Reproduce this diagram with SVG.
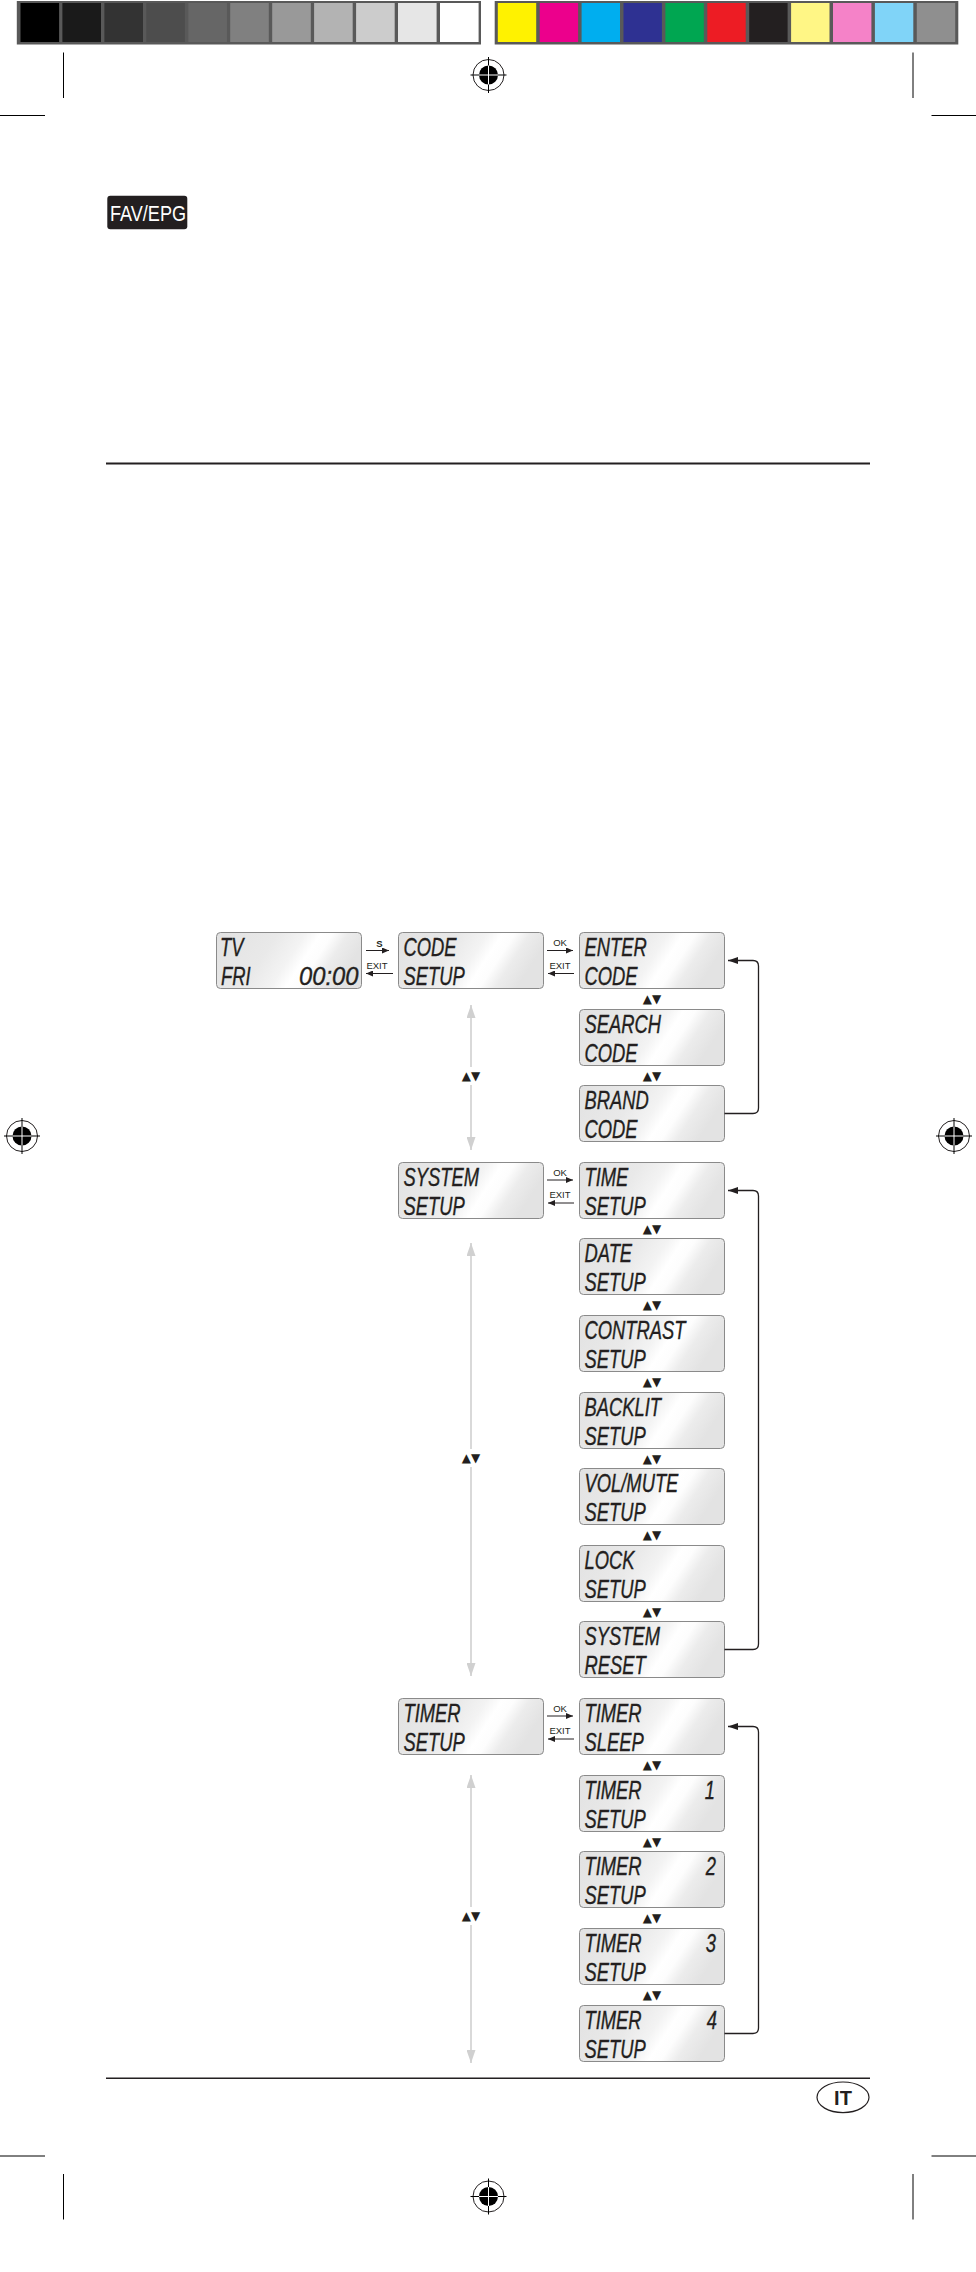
<svg xmlns="http://www.w3.org/2000/svg" width="976" height="2272" viewBox="0 0 976 2272">
<defs>
  <linearGradient id="lcd" x1="0" y1="0" x2="1" y2="0.25">
    <stop offset="0" stop-color="#e2e2e2"/>
    <stop offset="0.4" stop-color="#e9e9e9"/>
    <stop offset="0.58" stop-color="#f3f3f3"/>
    <stop offset="0.68" stop-color="#ffffff"/>
    <stop offset="0.76" stop-color="#fdfdfd"/>
    <stop offset="0.86" stop-color="#ececec"/>
    <stop offset="1" stop-color="#e3e3e3"/>
  </linearGradient>
  <marker id="ah" markerUnits="userSpaceOnUse" markerWidth="7" markerHeight="6" refX="7" refY="3" orient="auto">
    <path d="M0,0 L7,3 L0,6 z" fill="#231f20"/>
  </marker>
  <marker id="bh" markerUnits="userSpaceOnUse" markerWidth="10" markerHeight="7" refX="10" refY="3.5" orient="auto">
    <path d="M0,0 L10,3.5 L0,7 z" fill="#231f20"/>
  </marker>
  <marker id="gh" markerUnits="userSpaceOnUse" markerWidth="13" markerHeight="9" refX="13" refY="4.5" orient="auto">
    <path d="M0,0 L13,4.5 L0,9 z" fill="#d0d0d0"/>
  </marker>
  <g id="reg">
    <circle cx="0" cy="0" r="15.5" fill="none" stroke="#231f20" stroke-width="1"/>
    <circle cx="0" cy="0" r="9.5" fill="#000"/>
    <line x1="-18" y1="0" x2="18" y2="0" stroke="#000" stroke-width="1"/>
    <line x1="0" y1="-18" x2="0" y2="18" stroke="#000" stroke-width="1"/>
    <line x1="-9.5" y1="0" x2="9.5" y2="0" stroke="#fff" stroke-width="1"/>
    <line x1="0" y1="-9.5" x2="0" y2="9.5" stroke="#fff" stroke-width="1"/>
  </g>
</defs>
<style>
  .lcd rect { fill: url(#lcd); stroke: #8a8a8a; stroke-width: 1; }
  .t { font-family: "Liberation Sans", Arial, sans-serif; font-style: italic; font-size: 25px; fill: #231f20; stroke: #231f20; stroke-width: 0.35; }
  .k { font-family: "Liberation Sans", Arial, sans-serif; font-size: 9.5px; fill: #231f20; text-anchor: middle; }
  .tri { font-family: "DejaVu Sans", sans-serif; font-size: 12px; fill: #231f20; text-anchor: middle; }
  .ln { stroke: #231f20; stroke-width: 1; fill: none; }
  .br { stroke: #231f20; stroke-width: 1.3; fill: none; }
  .gl { stroke: #d0d0d0; stroke-width: 1.6; fill: none; }
  .crop { stroke: #000; stroke-width: 1; }
</style>
<rect x="0" y="0" width="976" height="2272" fill="#fff"/>

<g id="colorbars">
  <rect x="16.8" y="1" width="464.2" height="43.5" fill="#595959"/>
  <rect x="20.5" y="3" width="38.6" height="39" fill="#000000"/>
  <rect x="62.4" y="3" width="38.6" height="39" fill="#1a1a1a"/>
  <rect x="104.4" y="3" width="38.6" height="39" fill="#333333"/>
  <rect x="146.3" y="3" width="38.6" height="39" fill="#4d4d4d"/>
  <rect x="188.3" y="3" width="38.6" height="39" fill="#666666"/>
  <rect x="230.2" y="3" width="38.6" height="39" fill="#808080"/>
  <rect x="272.2" y="3" width="38.6" height="39" fill="#999999"/>
  <rect x="314.1" y="3" width="38.6" height="39" fill="#b3b3b3"/>
  <rect x="356.1" y="3" width="38.6" height="39" fill="#cccccc"/>
  <rect x="398.0" y="3" width="38.6" height="39" fill="#e6e6e6"/>
  <rect x="440.0" y="3" width="38.6" height="39" fill="#ffffff"/>
  <rect x="494.7" y="1" width="463.6" height="43.5" fill="#595959"/>
  <rect x="497.8" y="3" width="38.4" height="39" fill="#fff200"/>
  <rect x="539.7" y="3" width="38.4" height="39" fill="#ec008c"/>
  <rect x="581.6" y="3" width="38.4" height="39" fill="#00aeef"/>
  <rect x="623.5" y="3" width="38.4" height="39" fill="#2e3192"/>
  <rect x="665.4" y="3" width="38.4" height="39" fill="#00a651"/>
  <rect x="707.3" y="3" width="38.4" height="39" fill="#ed1c24"/>
  <rect x="749.2" y="3" width="38.4" height="39" fill="#231f20"/>
  <rect x="791.1" y="3" width="38.4" height="39" fill="#fff685"/>
  <rect x="833.0" y="3" width="38.4" height="39" fill="#f582c8"/>
  <rect x="874.9" y="3" width="38.4" height="39" fill="#80d4f8"/>
  <rect x="916.8" y="3" width="38.4" height="39" fill="#8f8f8f"/>
</g>

<g id="printmarks">
  <line class="crop" x1="63.5" y1="52.5" x2="63.5" y2="98"/>
  <line class="crop" x1="913" y1="52.5" x2="913" y2="98"/>
  <line class="crop" x1="0" y1="115.5" x2="45" y2="115.5"/>
  <line class="crop" x1="931.5" y1="115.5" x2="976" y2="115.5"/>
  <line class="crop" x1="0" y1="2156" x2="45" y2="2156"/>
  <line class="crop" x1="931.5" y1="2156" x2="976" y2="2156"/>
  <line class="crop" x1="63.5" y1="2174" x2="63.5" y2="2219.5"/>
  <line class="crop" x1="913" y1="2174" x2="913" y2="2219.5"/>
  <use href="#reg" x="488.5" y="75"/>
  <use href="#reg" x="22" y="1136"/>
  <use href="#reg" x="954" y="1136"/>
  <use href="#reg" x="488.5" y="2196.5"/>
</g>

<g id="fav-epg">
  <rect x="107.3" y="195.7" width="80" height="33.6" rx="3" fill="#231f20"/>
  <text x="110" y="220.7" font-family="'Liberation Sans', Arial, sans-serif" font-size="22" fill="#fff" textLength="76" lengthAdjust="spacingAndGlyphs">FAV/EPG</text>
</g>

<g id="rules">
  <line x1="106" y1="463.5" x2="870" y2="463.5" stroke="#231f20" stroke-width="2"/>
  <line x1="106" y1="2078.3" x2="870" y2="2078.3" stroke="#231f20" stroke-width="1.6"/>
</g>

<g id="lang-it">
  <ellipse cx="843" cy="2097.3" rx="26" ry="15.3" fill="none" stroke="#231f20" stroke-width="1.2"/>
  <text x="843" y="2104.5" font-family="'Liberation Sans', Arial, sans-serif" font-weight="bold" font-size="20" fill="#231f20" text-anchor="middle">IT</text>
</g>

<!-- nodes -->
<g id="node-tv" class="lcd">
  <rect x="216.5" y="932.5" width="145" height="56" rx="4"/>
  <text class="t" transform="translate(220,955.5) scale(0.735,1)">TV</text>
  <text class="t" transform="translate(221,984.5) scale(0.735,1)">FRI</text>
  <text class="t" transform="translate(299,984.5) scale(0.735,1)" textLength="81" lengthAdjust="spacingAndGlyphs">00:00</text>
</g>
<g id="node-code-setup" class="lcd">
  <rect x="398.5" y="932.5" width="145" height="56" rx="4"/>
  <text class="t" transform="translate(403.5,955.5) scale(0.735,1)">CODE</text>
  <text class="t" transform="translate(403.5,984.5) scale(0.735,1)">SETUP</text>
</g>
<g id="node-system-setup" class="lcd">
  <rect x="398.5" y="1162.5" width="145" height="56" rx="4"/>
  <text class="t" transform="translate(403.5,1185.5) scale(0.735,1)">SYSTEM</text>
  <text class="t" transform="translate(403.5,1214.5) scale(0.735,1)">SETUP</text>
</g>
<g id="node-timer-setup" class="lcd">
  <rect x="398.5" y="1698.5" width="145" height="56" rx="4"/>
  <text class="t" transform="translate(403.5,1721.5) scale(0.735,1)">TIMER</text>
  <text class="t" transform="translate(403.5,1750.5) scale(0.735,1)">SETUP</text>
</g>

<g id="node-enter-code" class="lcd">
  <rect x="579.5" y="932.5" width="145" height="56" rx="4"/>
  <text class="t" transform="translate(584.5,955.5) scale(0.735,1)">ENTER</text>
  <text class="t" transform="translate(584.5,984.5) scale(0.735,1)">CODE</text>
</g>
<g id="node-search-code" class="lcd">
  <rect x="579.5" y="1009.5" width="145" height="56" rx="4"/>
  <text class="t" transform="translate(584.5,1032.5) scale(0.735,1)">SEARCH</text>
  <text class="t" transform="translate(584.5,1061.5) scale(0.735,1)">CODE</text>
</g>
<g id="node-brand-code" class="lcd">
  <rect x="579.5" y="1085.5" width="145" height="56" rx="4"/>
  <text class="t" transform="translate(584.5,1108.5) scale(0.735,1)">BRAND</text>
  <text class="t" transform="translate(584.5,1137.5) scale(0.735,1)">CODE</text>
</g>
<g id="node-time-setup" class="lcd">
  <rect x="579.5" y="1162.5" width="145" height="56" rx="4"/>
  <text class="t" transform="translate(584.5,1185.5) scale(0.735,1)">TIME</text>
  <text class="t" transform="translate(584.5,1214.5) scale(0.735,1)">SETUP</text>
</g>
<g id="node-date-setup" class="lcd">
  <rect x="579.5" y="1238.5" width="145" height="56" rx="4"/>
  <text class="t" transform="translate(584.5,1261.5) scale(0.735,1)">DATE</text>
  <text class="t" transform="translate(584.5,1290.5) scale(0.735,1)">SETUP</text>
</g>
<g id="node-contrast-setup" class="lcd">
  <rect x="579.5" y="1315.5" width="145" height="56" rx="4"/>
  <text class="t" transform="translate(584.5,1338.5) scale(0.735,1)">CONTRAST</text>
  <text class="t" transform="translate(584.5,1367.5) scale(0.735,1)">SETUP</text>
</g>
<g id="node-backlit-setup" class="lcd">
  <rect x="579.5" y="1392.5" width="145" height="56" rx="4"/>
  <text class="t" transform="translate(584.5,1415.5) scale(0.735,1)">BACKLIT</text>
  <text class="t" transform="translate(584.5,1444.5) scale(0.735,1)">SETUP</text>
</g>
<g id="node-volmute-setup" class="lcd">
  <rect x="579.5" y="1468.5" width="145" height="56" rx="4"/>
  <text class="t" transform="translate(584.5,1491.5) scale(0.735,1)">VOL/MUTE</text>
  <text class="t" transform="translate(584.5,1520.5) scale(0.735,1)">SETUP</text>
</g>
<g id="node-lock-setup" class="lcd">
  <rect x="579.5" y="1545.5" width="145" height="56" rx="4"/>
  <text class="t" transform="translate(584.5,1568.5) scale(0.735,1)">LOCK</text>
  <text class="t" transform="translate(584.5,1597.5) scale(0.735,1)">SETUP</text>
</g>
<g id="node-system-reset" class="lcd">
  <rect x="579.5" y="1621.5" width="145" height="56" rx="4"/>
  <text class="t" transform="translate(584.5,1644.5) scale(0.735,1)">SYSTEM</text>
  <text class="t" transform="translate(584.5,1673.5) scale(0.735,1)">RESET</text>
</g>
<g id="node-timer-sleep" class="lcd">
  <rect x="579.5" y="1698.5" width="145" height="56" rx="4"/>
  <text class="t" transform="translate(584.5,1721.5) scale(0.735,1)">TIMER</text>
  <text class="t" transform="translate(584.5,1750.5) scale(0.735,1)">SLEEP</text>
</g>
<g id="node-timer1" class="lcd">
  <rect x="579.5" y="1775.5" width="145" height="56" rx="4"/>
  <text class="t" transform="translate(584.5,1798.5) scale(0.735,1)">TIMER</text>
  <text class="t" text-anchor="end" transform="translate(715,1798.5) scale(0.735,1)">1</text>
  <text class="t" transform="translate(584.5,1827.5) scale(0.735,1)">SETUP</text>
</g>
<g id="node-timer2" class="lcd">
  <rect x="579.5" y="1851.5" width="145" height="56" rx="4"/>
  <text class="t" transform="translate(584.5,1874.5) scale(0.735,1)">TIMER</text>
  <text class="t" text-anchor="end" transform="translate(716,1874.5) scale(0.735,1)">2</text>
  <text class="t" transform="translate(584.5,1903.5) scale(0.735,1)">SETUP</text>
</g>
<g id="node-timer3" class="lcd">
  <rect x="579.5" y="1928.5" width="145" height="56" rx="4"/>
  <text class="t" transform="translate(584.5,1951.5) scale(0.735,1)">TIMER</text>
  <text class="t" text-anchor="end" transform="translate(716,1951.5) scale(0.735,1)">3</text>
  <text class="t" transform="translate(584.5,1980.5) scale(0.735,1)">SETUP</text>
</g>
<g id="node-timer4" class="lcd">
  <rect x="579.5" y="2005.5" width="145" height="56" rx="4"/>
  <text class="t" transform="translate(584.5,2028.5) scale(0.735,1)">TIMER</text>
  <text class="t" text-anchor="end" transform="translate(717,2028.5) scale(0.735,1)">4</text>
  <text class="t" transform="translate(584.5,2057.5) scale(0.735,1)">SETUP</text>
</g>

<g id="connectors">
  <!-- TV <-> CODE SETUP -->
  <line class="ln" x1="366" y1="950.5" x2="389" y2="950.5" marker-end="url(#ah)"/>
  <text class="k" x="379.5" y="946.5" font-weight="bold">S</text>
  <text class="k" x="377" y="968.5">EXIT</text>
  <line class="ln" x1="393" y1="973.5" x2="366" y2="973.5" marker-end="url(#ah)"/>
  <!-- CODE SETUP <-> ENTER CODE -->
  <line class="ln" x1="547" y1="950.5" x2="573" y2="950.5" marker-end="url(#ah)"/>
  <text class="k" x="560" y="946">OK</text>
  <text class="k" x="560" y="968.5">EXIT</text>
  <line class="ln" x1="574" y1="973.5" x2="548" y2="973.5" marker-end="url(#ah)"/>
  <!-- SYSTEM SETUP <-> TIME SETUP -->
  <line class="ln" x1="547" y1="1180" x2="573" y2="1180" marker-end="url(#ah)"/>
  <text class="k" x="560" y="1175.5">OK</text>
  <text class="k" x="560" y="1198">EXIT</text>
  <line class="ln" x1="574" y1="1203" x2="548" y2="1203" marker-end="url(#ah)"/>
  <!-- TIMER SETUP <-> TIMER SLEEP -->
  <line class="ln" x1="547" y1="1716" x2="573" y2="1716" marker-end="url(#ah)"/>
  <text class="k" x="560" y="1711.5">OK</text>
  <text class="k" x="560" y="1734">EXIT</text>
  <line class="ln" x1="574" y1="1739" x2="548" y2="1739" marker-end="url(#ah)"/>

  <!-- loop brackets -->
  <path class="br" d="M724.5,1113.5 H753 Q758.5,1113.5 758.5,1108 V966 Q758.5,960.5 753,960.5 H728" marker-end="url(#bh)"/>
  <path class="br" d="M724.5,1649.5 H753 Q758.5,1649.5 758.5,1644 V1196 Q758.5,1190.5 753,1190.5 H728" marker-end="url(#bh)"/>
  <path class="br" d="M724.5,2033.5 H753 Q758.5,2033.5 758.5,2028 V1732 Q758.5,1726.5 753,1726.5 H728" marker-end="url(#bh)"/>

  <!-- gray up/down lines between main menus -->
  <line class="gl" x1="471" y1="1067" x2="471" y2="1005" marker-end="url(#gh)"/>
  <line class="gl" x1="471" y1="1085" x2="471" y2="1150" marker-end="url(#gh)"/>
  <text class="tri" x="471" y="1080.2">▲▼</text>
  <line class="gl" x1="471" y1="1449" x2="471" y2="1243" marker-end="url(#gh)"/>
  <line class="gl" x1="471" y1="1467" x2="471" y2="1676" marker-end="url(#gh)"/>
  <text class="tri" x="471" y="1462.2">▲▼</text>
  <line class="gl" x1="471" y1="1907" x2="471" y2="1775" marker-end="url(#gh)"/>
  <line class="gl" x1="471" y1="1925" x2="471" y2="2063" marker-end="url(#gh)"/>
  <text class="tri" x="471" y="1920.2">▲▼</text>

  <!-- up/down between sub items -->
  <text class="tri" x="652" y="1003">▲▼</text>
  <text class="tri" x="652" y="1080">▲▼</text>
  <text class="tri" x="652" y="1233">▲▼</text>
  <text class="tri" x="652" y="1309">▲▼</text>
  <text class="tri" x="652" y="1386">▲▼</text>
  <text class="tri" x="652" y="1463">▲▼</text>
  <text class="tri" x="652" y="1539">▲▼</text>
  <text class="tri" x="652" y="1616">▲▼</text>
  <text class="tri" x="652" y="1769">▲▼</text>
  <text class="tri" x="652" y="1846">▲▼</text>
  <text class="tri" x="652" y="1922">▲▼</text>
  <text class="tri" x="652" y="1999">▲▼</text>
</g>
</svg>
